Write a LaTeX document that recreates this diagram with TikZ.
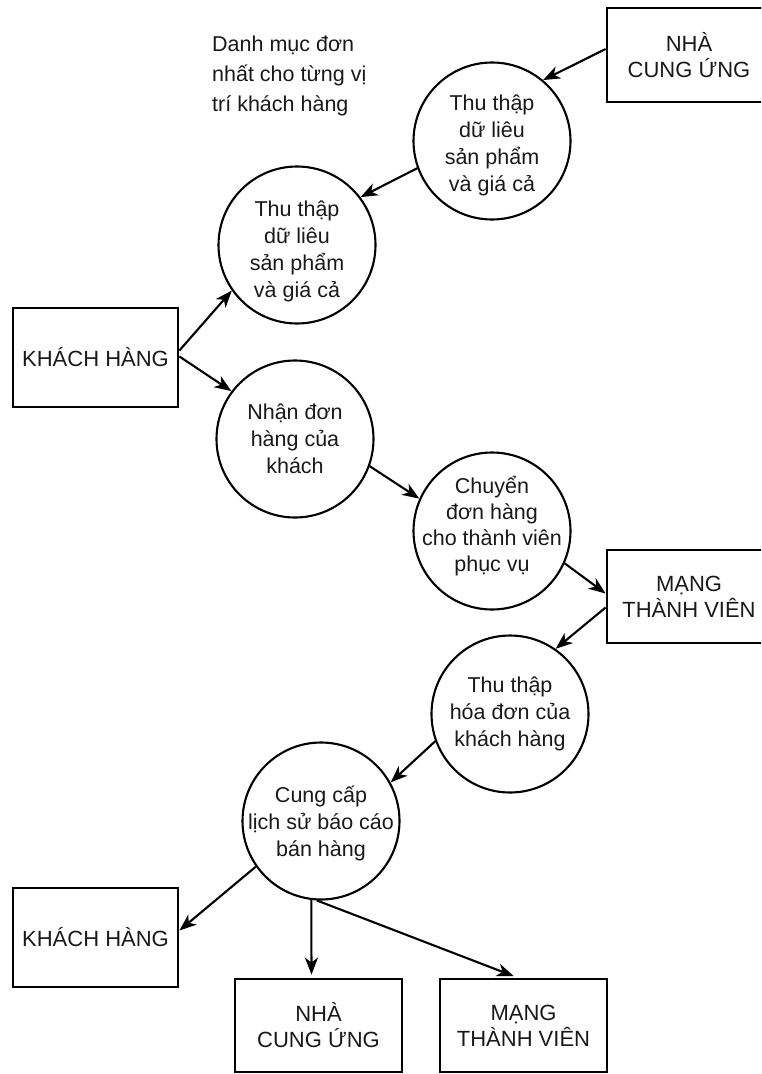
\documentclass[tikz,border=0pt]{standalone}
\usepackage{fontspec}
\setmainfont{Liberation Sans}
\usetikzlibrary{arrows.meta}
\begin{document}
\begin{tikzpicture}[x=1pt,y=-1pt,
  circ/.style={circle, draw, line width=2.1pt, minimum size=157pt, inner sep=0pt},
  lbl/.style={inner sep=0pt, align=center, text=black!90, font=\fontsize{21.5}{27}\selectfont},
  boxnode/.style={rectangle, draw, line width=2.8pt, inner sep=0pt, align=center,
    text=black!90, font=\fontsize{22}{26}\selectfont},
  arr/.style={line width=2.1pt, -{Stealth[length=17pt,width=13pt,inset=5pt]}}]
\path[use as bounding box] (0,0) rectangle (761,1074);
\clip (0,0) rectangle (761,1074);

% note
\node[anchor=north west, align=left, inner sep=0pt, text=black!90,
  font=\fontsize{21.5}{30}\selectfont] (note) at (212,36)
  {Danh mục đơn\\nhất cho từng vị\\trí khách hàng};

% boxes
\node[boxnode, minimum width=164pt, minimum height=94pt] (ncu1) at (689,55) {NHÀ\\CUNG ỨNG};
\node[boxnode, minimum width=165pt, minimum height=99pt] (kh1) at (95.5,357.5) {KHÁCH HÀNG};
\node[boxnode, minimum width=164pt, minimum height=93pt] (mtv1) at (689,596.5) {MẠNG\\THÀNH VIÊN};
\node[boxnode, minimum width=165pt, minimum height=99pt] (kh2) at (95.5,937.5) {KHÁCH HÀNG};
\node[boxnode, minimum width=167pt, minimum height=93pt] (ncu2) at (318.5,1025.5) {NHÀ\\CUNG ỨNG};
\node[boxnode, minimum width=167pt, minimum height=93pt] (mtv2) at (523.5,1025.5) {MẠNG\\THÀNH VIÊN};

% circles
\node[circ] (c1) at (492,141) {};
\node[circ] (c2) at (297,245) {};
\node[circ] (c3) at (295,439) {};
\node[circ] (c4) at (492,531) {};
\node[circ] (c5) at (510,714) {};
\node[circ] (c6) at (321,821) {};

% circle texts
\node[lbl, yshift=-4pt] (t1) at (c1) {Thu thập\\dữ liêu\\sản phẩm\\và giá cả};
\node[lbl, yshift=-6pt] (t2) at (c2) {Thu thập\\dữ liêu\\sản phẩm\\và giá cả};
\node[lbl] (t3) at (c3) {Nhận đơn\\hàng của\\khách};
\node[lbl, yshift=5pt, font=\fontsize{21.5}{26}\selectfont] (t4) at (c4) {Chuyển\\đơn hàng\\cho thành viên\\phục vụ};
\node[lbl] (t5) at (c5) {Thu thập\\hóa đơn của\\khách hàng};
\node[lbl, yshift=-2pt] (t6) at (c6) {Cung cấp\\lịch sử báo cáo\\bán hàng};

% connectors
\draw[arr] ([yshift=6pt]ncu1.west) -- (c1.50);
\draw[arr] (c1.200) -- (c2.37);
\draw[arr] ([yshift=7pt]kh1.east) -- (c2.215);
\draw[arr] ([yshift=1pt]kh1.east) -- (c3.143);
\draw[arr] (c3.-20) -- (c4.156);
\draw[arr] (c4.-24) -- ([yshift=3pt]mtv1.west);
\draw[arr] ([yshift=-11pt]mtv1.west) -- (c5.55);
\draw[arr] (c5.200) -- (c6.29);
\draw[arr] (c6.215) -- ([yshift=7pt]kh2.east);
\draw[arr, shorten >=3pt] (c6.263) -- ([xshift=-7pt]ncu2.north);
\draw[arr, shorten >=4pt] (c6.267) -- ([xshift=-6pt]mtv2.north);
\end{tikzpicture}
\end{document}
